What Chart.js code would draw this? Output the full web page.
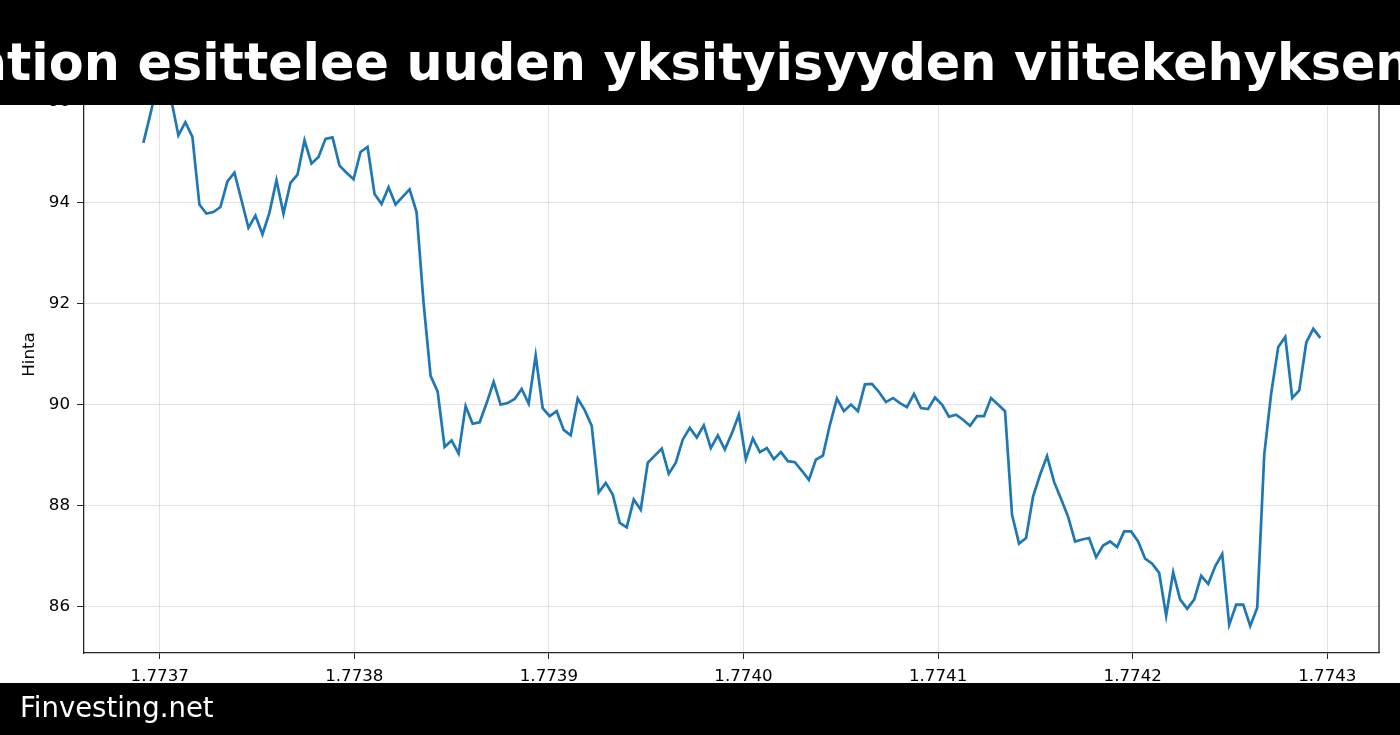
<!DOCTYPE html>
<html>
<head>
  <meta charset="UTF-8">
  <title>Hinta</title>
  <script src="https://cdn.jsdelivr.net/npm/chart.js"></script>
  <style>
    html, body { margin: 0; padding: 0; background: #fff; }
    canvas { display: block; }
  </style>
</head>
<body>
  <canvas id="priceChart" width="1400" height="735" style="width:1400px;height:735px"></canvas>

  <script>
    // Title and footer texts
    const titleText = "ation esittelee uuden yksityisyyden viitekehyksen";
    const footerText = "Finvesting.net";
    const yAxisLabel = "Hinta";

    // Hourly samples (unix seconds), first sample and step
    const startTime = 1773691600;
    const stepSeconds = 3600;

    // Price, one value per hour
    const prices = [
      95.18, 95.75, 96.35, 96.22, 96.02, 95.33, 95.59, 95.30, 93.96, 93.78,
      93.81, 93.91, 94.42, 94.59, 94.05, 93.50, 93.74, 93.37, 93.80, 94.44,
      93.78, 94.39, 94.55, 95.23, 94.77, 94.90, 95.26, 95.29, 94.73, 94.59,
      94.46, 95.00, 95.10, 94.17, 93.97, 94.30, 93.96, 94.11, 94.26, 93.81,
      92.01, 90.57, 90.26, 89.16, 89.29, 89.03, 89.97, 89.62, 89.65, 90.03,
      90.45, 90.00, 90.03, 90.11, 90.31, 90.02, 90.97, 89.93, 89.77, 89.87,
      89.50, 89.39, 90.12, 89.89, 89.58, 88.26, 88.45, 88.22, 87.66, 87.57,
      88.12, 87.92, 88.85, 88.99, 89.13, 88.63, 88.85, 89.31, 89.54, 89.35,
      89.59, 89.14, 89.39, 89.11, 89.43, 89.80, 88.92, 89.33, 89.06, 89.14,
      88.92, 89.06, 88.88, 88.86, 88.69, 88.51, 88.91, 88.99, 89.60, 90.12,
      89.87, 90.00, 89.87, 90.40, 90.41, 90.25, 90.05, 90.13, 90.03, 89.95,
      90.21, 89.93, 89.91, 90.14, 90.00, 89.76, 89.80, 89.70, 89.58, 89.77,
      89.77, 90.13, 90.00, 89.87, 87.82, 87.25, 87.36, 88.18, 88.61, 88.98,
      88.47, 88.13, 87.78, 87.29, 87.33, 87.36, 86.98, 87.21, 87.29, 87.18,
      87.49, 87.49, 87.29, 86.95, 86.85, 86.67, 85.82, 86.68, 86.14, 85.96,
      86.14, 86.61, 86.45, 86.80, 87.04, 85.64, 86.04, 86.04, 85.62, 85.98,
      89.01, 90.23, 91.14, 91.34, 90.13, 90.28, 91.23, 91.50, 91.32
    ];

    // Axis ticks
    const xTicks = [1773700000, 1773800000, 1773900000, 1774000000, 1774100000, 1774200000, 1774300000];
    const yTicks = [86, 88, 90, 92, 94, 96];

    const points = prices.map((p, i) => ({ x: startTime + i * stepSeconds, y: p }));

    const tickFont = { family: "DejaVu Sans", size: 16.67 };
    const gridColor = "rgba(176,176,176,0.35)";
    const spineColor = "#262626";

    // Black header and footer bands, plus the right/top spines
    const bannerPlugin = {
      id: "banners",
      afterDraw(chart) {
        const ctx = chart.ctx;
        const a = chart.chartArea;
        ctx.save();
        ctx.strokeStyle = spineColor;
        ctx.lineWidth = 1.3;
        ctx.beginPath();
        ctx.moveTo(a.left, a.top);
        ctx.lineTo(a.right, a.top);
        ctx.lineTo(a.right, a.bottom);
        ctx.stroke();

        ctx.fillStyle = "#000";
        ctx.fillRect(0, 0, chart.width, 105);
        ctx.fillStyle = "#fff";
        ctx.font = 'bold 50.8px "DejaVu Sans"';
        ctx.textBaseline = "alphabetic";
        const lead = ctx.measureText("ation ").width;
        ctx.fillText(titleText, 137.5 - lead, 80);

        ctx.fillStyle = "#000";
        ctx.fillRect(0, 683, chart.width, chart.height - 683);
        ctx.fillStyle = "#fff";
        ctx.font = '27.5px "DejaVu Sans"';
        ctx.fillText(footerText, 20, 717);
        ctx.restore();
      }
    };

    const priceChart = new Chart(document.getElementById("priceChart").getContext("2d"), {
      type: "line",
      data: {
        datasets: [{
          label: yAxisLabel,
          data: points,
          borderColor: "#1f77b4",
          borderWidth: 2.7,
          pointRadius: 0,
          tension: 0,
          fill: false
        }]
      },
      options: {
        responsive: false,
        animation: false,
        devicePixelRatio: 1,
        layout: { padding: { top: 56, right: 21, bottom: 52, left: 0 } },
        plugins: {
          legend: { display: false },
          tooltip: { enabled: false }
        },
        scales: {
          x: {
            type: "linear",
            min: 1773661090,
            max: 1774326574,
            afterBuildTicks: s => { s.ticks = xTicks.map(v => ({ value: v })); },
            afterFit: s => { s.height = 30; },
            ticks: {
              font: tickFont,
              color: "#000",
              padding: 8,
              maxRotation: 0,
              callback: v => (v / 1e9).toFixed(4)
            },
            grid: { color: gridColor, lineWidth: 1, tickLength: 6, tickColor: spineColor },
            border: { display: true, color: spineColor, width: 1.3 }
          },
          y: {
            min: 85.083,
            max: 96.9,
            afterBuildTicks: s => { s.ticks = yTicks.map(v => ({ value: v })); },
            afterFit: s => { s.width = 84; },
            ticks: { font: tickFont, color: "#000", padding: 7 },
            grid: { color: gridColor, lineWidth: 1, tickLength: 7, tickColor: spineColor },
            border: { display: true, color: spineColor, width: 1.3 },
            title: {
              display: true,
              text: yAxisLabel,
              font: tickFont,
              color: "#000",
              padding: { top: 20, bottom: 0 }
            }
          }
        }
      },
      plugins: [bannerPlugin]
    });
  </script>
</body>
</html>
